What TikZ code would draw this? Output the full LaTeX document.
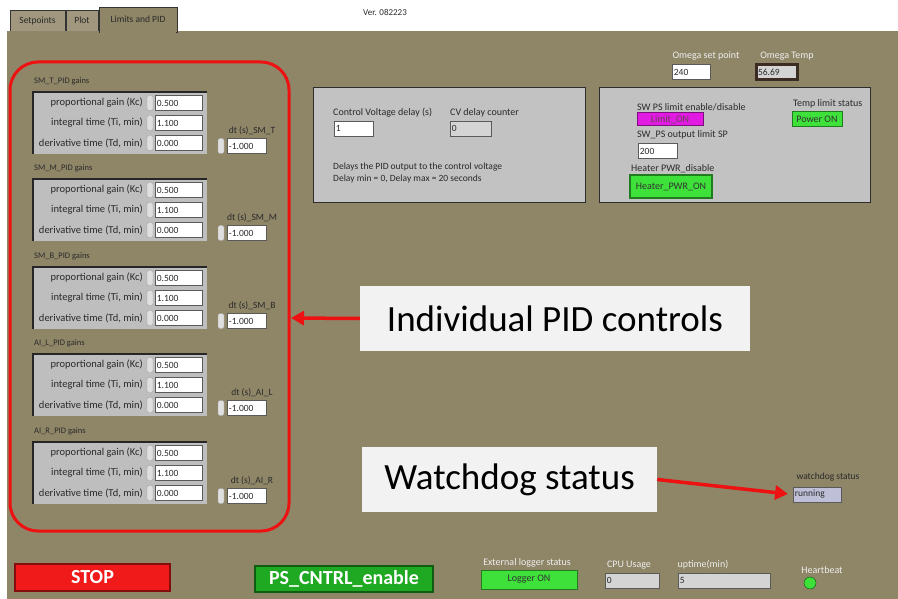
\documentclass[tikz,border=0pt]{standalone}
\usepackage{fontspec}
\setmainfont{Carlito}
\usetikzlibrary{arrows.meta}
\newcommand{\fsz}[1]{\fontsize{#1}{#1}\selectfont}

\definecolor{panel}{HTML}{8F8567}
\definecolor{clusgray}{HTML}{BEBEBE}
\definecolor{boxgray}{HTML}{C2C2C2}
\definecolor{txtdark}{HTML}{2A2A2A}
\definecolor{txtlight}{HTML}{EEEEEE}
\definecolor{frame}{HTML}{EE1111}
\definecolor{notebg}{HTML}{F2F2F2}
\definecolor{ledgreen}{HTML}{3EE03A}
\definecolor{btngreen}{HTML}{1FA822}
\definecolor{stopred}{HTML}{F01A1A}
\definecolor{limitmag}{HTML}{E21BE2}
\definecolor{fieldedge}{HTML}{5A5A5A}
\definecolor{indgray}{HTML}{D4D4D4}
\definecolor{omegabrown}{HTML}{3B2B22}

\tikzset{
  grp/.style={anchor=west, inner sep=0pt, text=txtdark, font=\fsz{8.5}},
  rowlbl/.style={anchor=east, inner sep=0pt, text=txtdark, font=\fsz{10.5}},
  lbl/.style={anchor=west, inner sep=0pt, text=txtdark, font=\fsz{10}},
  lightlbl/.style={inner sep=0pt, text=txtlight, font=\fsz{10}},
  numbox/.style={anchor=west, draw=fieldedge, fill=white, line width=0.8pt, text=txtdark,
    font=\fsz{9.5}, text width=#1, align=left, minimum height=15pt, inner xsep=1.5pt, inner ysep=0pt},
  numbox/.default=44pt,
  spin/.style={draw=gray!70, fill=gray!25, rounded corners=2pt, minimum width=6pt,
    minimum height=15pt, inner sep=0pt},
  clus/.style={fill=clusgray},
  clusedge/.style={draw=gray!30!black, line width=1.5pt},
  panelbox/.style={fill=boxgray, draw=gray!35!black, line width=1pt},
  btn/.style={draw=#1!55!black, fill=#1, line width=1pt, inner sep=0pt, font=\fsz{10}, text=black!80},
  bigbtn/.style={draw=#1!55!black, fill=#1, line width=1.2pt, inner sep=0pt,
    font=\fsz{20}\bfseries, text=white},
  note/.style={fill=notebg, inner sep=0pt, font=\fsz{37}, text=black},
  callarrow/.style={draw=frame, line width=3.5pt, -{Triangle[length=13pt,width=14pt]}},
  tab/.style={draw=gray!40!black, fill=panel!85!white, font=\fsz{9.5}, text=txtdark, inner sep=0pt}
}

\begin{document}
\begin{tikzpicture}[x=1pt,y=-1pt]
   \fill[white] (0,0) rectangle (898,599);
   \useasboundingbox (0,0) rectangle (898,599);
   % tabs and panel
   \node[tab, minimum width=55pt, minimum height=21pt] (tabset) at (37.5,20.5) {Setpoints};
   \node[tab, minimum width=32pt, minimum height=21pt] (tabplot) at (82,20.5) {Plot};
   \fill[panel] (7,31) rectangle (898,599);
   \node[tab, fill=panel, minimum width=78pt, minimum height=25pt] (tablim) at (138,19.5) {Limits and PID};
   \fill[panel] (100,30) rectangle (176,33);
   \node[lbl, anchor=center, font=\fsz{9}] (ver) at (385,12) {Ver. 082223};

   % SM_T
   \node[grp] (tg) at (34,81) {SM\_T\_PID gains};
   \fill[clus] (33,92) rectangle (207,154);
   \draw[clusedge] (33,154) -- (33,92) -- (207,92);
   \node[rowlbl] (tkcl) at (143,103) {proportional gain (Kc)};
   \node[spin] (tkcs) at (150,103) {};
   \node[numbox] (tkc) at (155,103) {0.500};
   \node[rowlbl] (til) at (143,123) {integral time (Ti, min)};
   \node[spin] (tis) at (150,123) {};
   \node[numbox] (ti) at (155,123) {1.100};
   \node[rowlbl] (tdl) at (143,143) {derivative time (Td, min)};
   \node[spin] (tds) at (150,143) {};
   \node[numbox] (td) at (155,143) {0.000};
   \node[lbl, anchor=center, font=\fsz{9.5}] (tdtl) at (252,131) {dt (s)\_SM\_T};
   \node[spin] (tdts) at (221,146) {};
   \node[numbox=36pt] (tdt) at (227,146) {-1.000};

   % SM_M
   \node[grp] (mg) at (34,168) {SM\_M\_PID gains};
   \fill[clus] (33,179) rectangle (207,241);
   \draw[clusedge] (33,241) -- (33,179) -- (207,179);
   \node[rowlbl] (mkcl) at (143,190) {proportional gain (Kc)};
   \node[spin] (mkcs) at (150,190) {};
   \node[numbox] (mkc) at (155,190) {0.500};
   \node[rowlbl] (mil) at (143,210) {integral time (Ti, min)};
   \node[spin] (mis) at (150,210) {};
   \node[numbox] (mi) at (155,210) {1.100};
   \node[rowlbl] (mdl) at (143,230) {derivative time (Td, min)};
   \node[spin] (mds) at (150,230) {};
   \node[numbox] (md) at (155,230) {0.000};
   \node[lbl, anchor=center, font=\fsz{9.5}] (mdtl) at (252,218) {dt (s)\_SM\_M};
   \node[spin] (mdts) at (221,233) {};
   \node[numbox=36pt] (mdt) at (227,233) {-1.000};

   % SM_B
   \node[grp] (bg) at (34,256) {SM\_B\_PID gains};
   \fill[clus] (33,267) rectangle (207,329);
   \draw[clusedge] (33,329) -- (33,267) -- (207,267);
   \node[rowlbl] (bkcl) at (143,278) {proportional gain (Kc)};
   \node[spin] (bkcs) at (150,278) {};
   \node[numbox] (bkc) at (155,278) {0.500};
   \node[rowlbl] (bil) at (143,298) {integral time (Ti, min)};
   \node[spin] (bis) at (150,298) {};
   \node[numbox] (bi) at (155,298) {1.100};
   \node[rowlbl] (bdl) at (143,318) {derivative time (Td, min)};
   \node[spin] (bds) at (150,318) {};
   \node[numbox] (bd) at (155,318) {0.000};
   \node[lbl, anchor=center, font=\fsz{9.5}] (bdtl) at (252,306) {dt (s)\_SM\_B};
   \node[spin] (bdts) at (221,321) {};
   \node[numbox=36pt] (bdt) at (227,321) {-1.000};

   % AI_L
   \node[grp] (lg) at (34,343) {AI\_L\_PID gains};
   \fill[clus] (33,354) rectangle (207,416);
   \draw[clusedge] (33,416) -- (33,354) -- (207,354);
   \node[rowlbl] (lkcl) at (143,365) {proportional gain (Kc)};
   \node[spin] (lkcs) at (150,365) {};
   \node[numbox] (lkc) at (155,365) {0.500};
   \node[rowlbl] (lil) at (143,385) {integral time (Ti, min)};
   \node[spin] (lis) at (150,385) {};
   \node[numbox] (li) at (155,385) {1.100};
   \node[rowlbl] (ldl) at (143,405) {derivative time (Td, min)};
   \node[spin] (lds) at (150,405) {};
   \node[numbox] (ld) at (155,405) {0.000};
   \node[lbl, anchor=center, font=\fsz{9.5}] (ldtl) at (252,393) {dt (s)\_AI\_L};
   \node[spin] (ldts) at (221,408) {};
   \node[numbox=36pt] (ldt) at (227,408) {-1.000};

   % AI_R
   \node[grp] (rg) at (34,431) {AI\_R\_PID gains};
   \fill[clus] (33,442) rectangle (207,504);
   \draw[clusedge] (33,504) -- (33,442) -- (207,442);
   \node[rowlbl] (rkcl) at (143,453) {proportional gain (Kc)};
   \node[spin] (rkcs) at (150,453) {};
   \node[numbox] (rkc) at (155,453) {0.500};
   \node[rowlbl] (ril) at (143,473) {integral time (Ti, min)};
   \node[spin] (ris) at (150,473) {};
   \node[numbox] (ri) at (155,473) {1.100};
   \node[rowlbl] (rdl) at (143,493) {derivative time (Td, min)};
   \node[spin] (rds) at (150,493) {};
   \node[numbox] (rd) at (155,493) {0.000};
   \node[lbl, anchor=center, font=\fsz{9.5}] (rdtl) at (252,481) {dt (s)\_AI\_R};
   \node[spin] (rdts) at (221,496) {};
   \node[numbox=36pt] (rdt) at (227,496) {-1.000};

   % red frame round the PID gains
   \draw[frame, line width=3pt, rounded corners=28pt] (10,62) rectangle (289,531);
   \coordinate (pidedge) at (291,318);

   % delay panel
   \draw[panelbox] (313,88) rectangle (585,203);
   \node[lbl] (cvl) at (333,113) {Control Voltage delay (s)};
   \node[numbox=36pt] (cv) at (334,128.5) {1};
   \node[lbl] (cvcl) at (450,113) {CV delay counter};
   \node[numbox=38pt, fill=indgray] (cvc) at (450,128.5) {0};
   \node[lbl, font=\fsz{9.5}] (dly1) at (333,167) {Delays the PID output to the control voltage};
   \node[lbl, font=\fsz{9.5}] (dly2) at (333,179) {Delay min = 0, Delay max = 20 seconds};

   % omega
   \node[lightlbl] (osl) at (706,56) {Omega set point};
   \node[numbox=35pt] (os) at (672,72) {240};
   \node[lightlbl] (otl) at (787,56) {Omega Temp};
   \node[numbox=38pt, fill=indgray, draw=omegabrown, line width=3pt] (ot) at (755,72.5) {56.69};

   % limit panel
   \draw[panelbox] (599,88) rectangle (870,203);
   \node[lbl] (swl) at (637,107) {SW PS limit enable/disable};
   \node[btn=limitmag, text=magenta!30!black, minimum width=66pt, minimum height=13pt] (sw) at (670,119.5) {Limit\_ON};
   \node[lbl] (spl) at (637,135) {SW\_PS output limit SP};
   \node[numbox=36pt] (sp) at (638,151) {200};
   \node[lbl] (htl) at (631,169) {Heater PWR\_disable};
   \node[btn=ledgreen, line width=1.5pt, minimum width=82pt, minimum height=23pt] (ht) at (671,186.5) {Heater\_PWR\_ON};
   \node[lbl] (tll) at (793,104) {Temp limit status};
   \node[btn=ledgreen, minimum width=50pt, minimum height=15pt] (tl) at (817,119.5) {Power ON};

   % callouts
   \node[note, minimum width=390pt, minimum height=65pt] (pidnote) at (555,318.5) {Individual PID controls};
   \node[note, minimum width=295pt, minimum height=65pt] (wdnote) at (509.5,479.5) {Watchdog status};
   \node[lbl, anchor=center, font=\fsz{9.5}] (wdl) at (828,477) {watchdog status};
   \node[numbox=45pt, fill=indgray!90!blue] (wd) at (793,494.5) {running};
   \draw[callarrow] (pidnote.west) -- (pidedge);
   \draw[callarrow, shorten >=5pt] (wdnote.east) -- (wd.west);

   % bottom row
   \node[bigbtn=stopred, minimum width=155pt, minimum height=27pt] (stop) at (92.5,577.5) {STOP};
   \node[bigbtn=btngreen, minimum width=178pt, minimum height=26pt] (psen) at (344,579) {PS\_CNTRL\_enable};
   \node[lightlbl] (logl) at (527,563) {External logger status};
   \node[btn=ledgreen, minimum width=96pt, minimum height=19pt] (log) at (529,579.5) {Logger ON};
   \node[lightlbl] (cpul) at (629,565) {CPU Usage};
   \node[numbox=51pt, fill=indgray] (cpu) at (605,580.5) {0};
   \node[lightlbl] (upl) at (703,565) {uptime(min)};
   \node[numbox=89pt, fill=indgray] (up) at (678,580.5) {5};
   \node[lightlbl] (hbl) at (822,570) {Heartbeat};
   \node[circle, draw=green!35!black, fill=ledgreen, minimum size=12pt, inner sep=0pt] (hb) at (810,583) {};
\end{tikzpicture}
\end{document}
